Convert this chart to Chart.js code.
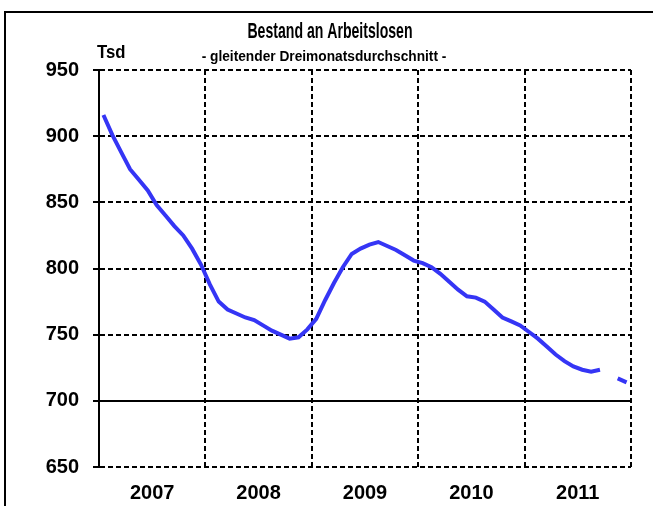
<!DOCTYPE html>
<html><head><meta charset="utf-8">
<script src="https://cdn.jsdelivr.net/npm/chart.js@4/dist/chart.umd.min.js"></script>
<style>html,body{margin:0;padding:0;background:#fff;} #wrap{width:653px;height:506px;position:relative;}</style>
</head><body><div id="wrap"><canvas id="c" width="653" height="506"></canvas></div>
<script>
const titleText = 'Bestand an Arbeitslosen';
const subtitleText = '- gleitender Dreimonatsdurchschnitt -';
const unitLabel = 'Tsd';
const years = ['2007', '2008', '2009', '2010', '2011'];
const yTicks = [650, 700, 750, 800, 850, 900, 950];
// monthly values (Tsd), Jan..Dec
const values2007 = [916, 901, 888, 875, 867, 859, 848, 840, 832, 825, 815, 803];
const values2008 = [788, 775, 769, 766, 763, 761, 757, 753, 750, 747, 748, 754];
const values2009 = [762, 776, 789, 801, 811, 815, 818, 820, 817, 814, 810, 806];
const values2010 = [804, 801, 796, 790, 784, 779, 778, 775, 769, 763, 760, 757];
const values2011 = [752, 747, 741, 735, 730, 726, 723.5, 722, 723.5, null, 717, 714];

const yearSeries = [values2007, values2008, values2009, values2010, values2011];
const points = [];
yearSeries.forEach((arr, yi) => arr.forEach((v, m) => points.push({ x: yi * 12 + m + 0.5, y: v })));

const FONT = '"Liberation Sans", Arial, sans-serif';

function condensedText(c, text, x, y, font, sx, align) {
  c.save();
  c.font = font;
  c.textAlign = align;
  c.textBaseline = 'middle';
  c.translate(x, y);
  c.scale(sx, 1);
  c.fillText(text, 0, 0);
  c.restore();
}

const deco = {
  id: 'deco',
  afterDraw(chart) {
    const c = chart.ctx;
    c.save();
    c.strokeStyle = '#000';
    c.lineWidth = 2;
    c.beginPath();
    c.moveTo(5, 506); c.lineTo(5, 12); c.lineTo(653, 12);
    c.stroke();
    c.fillStyle = '#000';
    condensedText(c, titleText, 330, 32, 'bold 22px ' + FONT, 0.64, 'center');
    condensedText(c, subtitleText, 324, 57, 'bold 14px ' + FONT, 0.98, 'center');
    condensedText(c, unitLabel, 97, 53, 'bold 19px ' + FONT, 0.88, 'left');
    c.restore();
  }
};

new Chart(document.getElementById('c'), {
  type: 'line',
  data: {
    datasets: [{
      data: points,
      borderColor: '#3535F5',
      borderWidth: 4,
      pointRadius: 0,
      tension: 0,
      spanGaps: false,
      fill: false
    }]
  },
  options: {
    responsive: false,
    animation: false,
    layout: { padding: { left: 0, right: 22, top: 70, bottom: 0 } },
    plugins: { legend: { display: false }, tooltip: { enabled: false }, title: { display: false } },
    scales: {
      x: {
        type: 'linear', min: 0, max: 60,
        afterBuildTicks: s => { s.ticks = [0, 6, 12, 18, 24, 30, 36, 42, 48, 54, 60].map(v => ({ value: v })); },
        ticks: {
          autoSkip: false, maxRotation: 0, padding: 14, color: '#000',
          font: { family: FONT, size: 20, weight: 'bold' },
          callback: v => (v % 12 === 6 ? years[(v - 6) / 12] : '')
        },
        grid: {
          drawTicks: false, lineWidth: 2,
          color: ctx => (ctx.tick && ctx.tick.value % 12 === 0 && ctx.tick.value > 0 ? '#000' : 'rgba(0,0,0,0)')
        },
        border: { display: false, dash: [5, 3] },
        afterFit: s => { s.height = 39; }
      },
      y: {
        type: 'linear', min: 650, max: 950,
        afterBuildTicks: s => { s.ticks = yTicks.map(v => ({ value: v })); },
        ticks: { padding: 14, color: '#000', font: { family: FONT, size: 20, weight: 'bold' } },
        grid: { color: '#000', lineWidth: 2, tickLength: 6, drawTicks: true },
        border: {
          display: true, color: '#000', width: 2,
          dash: ctx => (ctx.tick && ctx.tick.value === 700 ? [] : [5, 3])
        },
        afterFit: s => { s.width = 99; }
      }
    }
  },
  plugins: [deco]
});
</script>
</body></html>
